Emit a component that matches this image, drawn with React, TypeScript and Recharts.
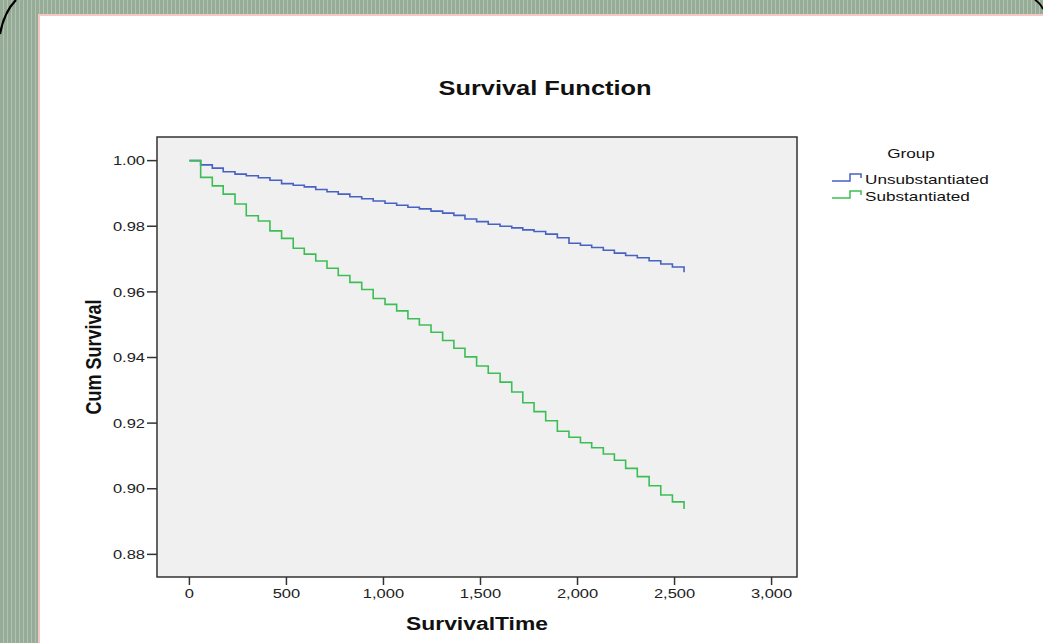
import React from 'react';
import { LineChart, Line, XAxis, YAxis, CartesianGrid, ReferenceArea } from 'recharts';

// survival times (days) at which the curves step down
const TIMES = [0, 58, 118, 174, 235, 293, 355, 415, 475, 535, 592, 651, 709, 767, 827, 888, 947, 1008, 1068, 1126, 1185, 1245, 1305, 1363, 1420, 1480, 1540, 1601, 1661, 1718, 1776, 1836, 1896, 1956, 2015, 2073, 2133, 2190, 2248, 2308, 2369, 2429, 2489, 2549];

const UNSUBSTANTIATED = [1.0, 0.9987, 0.9977, 0.9966, 0.9959, 0.9954, 0.9948, 0.994, 0.993, 0.9925, 0.992, 0.9912, 0.9905, 0.9898, 0.989, 0.9884, 0.9877, 0.987, 0.9864, 0.9858, 0.9853, 0.9846, 0.984, 0.9833, 0.9822, 0.9814, 0.9806, 0.98, 0.9795, 0.9789, 0.9784, 0.9776, 0.9765, 0.9748, 0.9742, 0.9735, 0.9727, 0.9718, 0.9711, 0.9704, 0.9695, 0.9685, 0.9676, 0.966];

const SUBSTANTIATED = [1.0, 0.9949, 0.9923, 0.9898, 0.9868, 0.9832, 0.9816, 0.9786, 0.9763, 0.9733, 0.9715, 0.9694, 0.9672, 0.965, 0.9629, 0.9607, 0.958, 0.9562, 0.9542, 0.9518, 0.9499, 0.9477, 0.9452, 0.9428, 0.9402, 0.9374, 0.9352, 0.9325, 0.9295, 0.9262, 0.9235, 0.9207, 0.9175, 0.9157, 0.914, 0.9125, 0.9106, 0.9087, 0.9062, 0.9037, 0.9009, 0.8981, 0.896, 0.8938];

const X_TICKS = [0, 500, 1000, 1500, 2000, 2500, 3000];
const Y_TICKS = [0.88, 0.9, 0.92, 0.94, 0.96, 0.98, 1.0];
const X_DOMAIN: [number, number] = [-167, 3131];
const Y_DOMAIN: [number, number] = [0.8731, 1.0072];

const BLUE = '#4762c3';
const GREEN = '#3cbe55';
const FONT = '"Liberation Sans", Arial, sans-serif';
const SX = 1.27; // the source picture is stretched horizontally

const data = TIMES.map((t, i) => ({ time: t, unsub: UNSUBSTANTIATED[i], sub: SUBSTANTIATED[i] }));

const XTick = (props: any) => {
    const { x, y, payload } = props;
    return (
        <g transform={`translate(${x},${y + 11})`}>
            <text transform={`scale(${SX},1)`} textAnchor="middle" fontSize={13} fontFamily={FONT} fill="#222">
                {Number(payload.value).toLocaleString('en-US')}
            </text>
        </g>
    );
};

const YTick = (props: any) => {
    const { x, y, payload } = props;
    return (
        <g transform={`translate(${x},${y + 4.7})`}>
            <text transform={`scale(${SX},1)`} textAnchor="end" fontSize={13} fontFamily={FONT} fill="#222">
                {Number(payload.value).toFixed(2)}
            </text>
        </g>
    );
};

const LegendIcon = ({ color }: { color: string }) => (
    <svg width={32} height={10} style={{ position: 'absolute', left: 0, top: 0 }}>
        <path d="M1,8 H19 V1 H30 V5" fill="none" stroke={color} strokeWidth={1.5} />
    </svg>
);

const stretched = (extra: React.CSSProperties): React.CSSProperties => ({
    position: 'absolute',
    fontFamily: FONT,
    color: '#111',
    whiteSpace: 'nowrap',
    textAlign: 'center',
    ...extra,
});

export default function App() {
    return (
        <div
            style={{
                position: 'absolute',
                left: 0,
                top: 0,
                width: 1043,
                height: 643,
                overflow: 'hidden',
                background: 'repeating-linear-gradient(90deg, #97ac96 0px, #97ac96 3px, #b2c2b0 3px, #b2c2b0 4px)',
            }}
        >
            <svg width={1043} height={643} style={{ position: 'absolute', left: 0, top: 0 }}>
                <path d="M0,34 Q4,12 16,0" fill="none" stroke="#000" strokeWidth={2.2} />
                <path d="M1035,0 Q1040,3 1043,9" fill="none" stroke="#000" strokeWidth={2} />
            </svg>
            <div
                style={{
                    position: 'absolute',
                    left: 38,
                    top: 14,
                    width: 1010,
                    height: 640,
                    background: '#fff',
                    borderLeft: '2px solid #f6c6c0',
                    borderTop: '2px solid #f6c6c0',
                    boxSizing: 'border-box',
                }}
            />
            <div style={{ position: 'absolute', left: 0, top: 0 }}>
                <LineChart width={1043} height={643} data={data} margin={{ top: 137, right: 246, bottom: 36, left: 97 }}>
                    <CartesianGrid horizontal={false} vertical={false} fill="#f0f0f0" fillOpacity={1} stroke="none" />
                    <XAxis
                        type="number"
                        dataKey="time"
                        domain={X_DOMAIN}
                        ticks={X_TICKS}
                        interval={0}
                        allowDataOverflow
                        axisLine={false}
                        tickSize={8}
                        tickMargin={2}
                        tickLine={{ stroke: '#333', strokeWidth: 1.5 }}
                        tick={<XTick />}
                        height={30}
                    />
                    <YAxis
                        type="number"
                        domain={Y_DOMAIN}
                        ticks={Y_TICKS}
                        interval={0}
                        allowDataOverflow
                        axisLine={false}
                        tickSize={10}
                        tickMargin={2}
                        tickLine={{ stroke: '#333', strokeWidth: 1.5 }}
                        tick={<YTick />}
                        width={60}
                    />
                    <ReferenceArea
                        x1={X_DOMAIN[0]}
                        x2={X_DOMAIN[1]}
                        y1={Y_DOMAIN[0]}
                        y2={Y_DOMAIN[1]}
                        fill="none"
                        stroke="#333"
                        strokeWidth={1.5}
                        ifOverflow="visible"
                    />
                    <Line type="stepAfter" dataKey="unsub" stroke={BLUE} strokeWidth={1.6} dot={false} isAnimationActive={false} />
                    <Line type="stepAfter" dataKey="sub" stroke={GREEN} strokeWidth={1.6} dot={false} isAnimationActive={false} />
                </LineChart>
            </div>

            <div style={stretched({ left: 345, top: 77, width: 400, fontSize: 20, lineHeight: '22px', fontWeight: 'bold', transform: `scaleX(${SX})` })}>
                Survival Function
            </div>
            <div style={stretched({ left: 377, top: 613, width: 200, fontSize: 18, lineHeight: '22px', fontWeight: 'bold', transform: `scaleX(${SX})` })}>
                SurvivalTime
            </div>
            <div
                style={stretched({
                    left: -7,
                    top: 346,
                    width: 200,
                    fontSize: 18,
                    lineHeight: '22px',
                    fontWeight: 'bold',
                    transform: `rotate(-90deg) scale(1,${SX})`,
                })}
            >
                Cum Survival
            </div>

            <div style={stretched({ left: 861, top: 146, width: 100, fontSize: 13.5, lineHeight: '16px', transform: `scaleX(${SX})` })}>
                Group
            </div>
            <div style={{ position: 'absolute', left: 831, top: 173, width: 40, height: 10 }}>
                <LegendIcon color={BLUE} />
            </div>
            <div style={{ position: 'absolute', left: 831, top: 190, width: 40, height: 10 }}>
                <LegendIcon color={GREEN} />
            </div>
            <div style={stretched({ left: 865, top: 172, fontSize: 13.5, lineHeight: '16px', textAlign: 'left', transform: `scaleX(${SX})`, transformOrigin: 'left center' })}>
                Unsubstantiated
            </div>
            <div style={stretched({ left: 865, top: 189, fontSize: 13.5, lineHeight: '16px', textAlign: 'left', transform: `scaleX(${SX})`, transformOrigin: 'left center' })}>
                Substantiated
            </div>
        </div>
    );
}
